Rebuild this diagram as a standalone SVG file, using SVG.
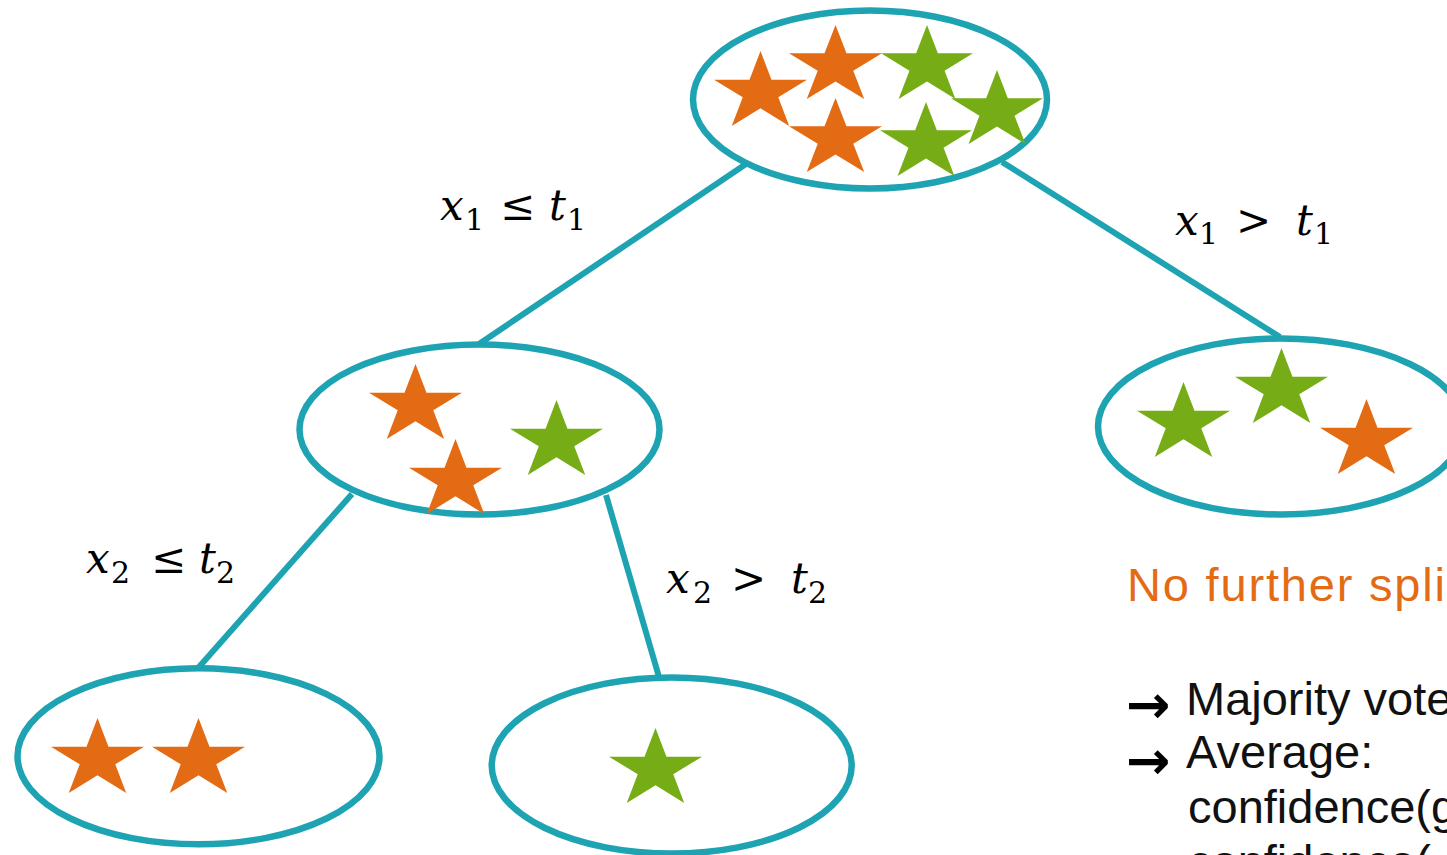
<svg xmlns="http://www.w3.org/2000/svg" xmlns:xlink="http://www.w3.org/1999/xlink" width="1447" height="855" viewBox="0 0 1447 855">
<style>
.node{fill:none;stroke:#1da3b2;stroke-width:6.5}
.edge{stroke:#1da3b2;stroke-width:6;fill:none}
.o{fill:#e36b14}
.g{fill:#76ad16}
.m{font-family:"DejaVu Serif","Liberation Serif",serif;font-size:42px;fill:#000}
.i{font-style:italic}
.s{font-size:30px;font-style:normal}
.t{font-family:"Liberation Sans",Arial,sans-serif;font-size:47px;fill:#111}
.h{fill:#e36b14}
.a{font-family:"DejaVu Sans",sans-serif;font-weight:bold;font-size:53px;fill:#000}
</style>
<defs>
<symbol id="star" viewBox="0 0 1 1" preserveAspectRatio="none">
<polygon points="0.5,0 0.618,0.382 1,0.382 0.691,0.618 0.809,1 0.5,0.764 0.191,1 0.309,0.618 0,0.382 0.382,0.382"/>
</symbol>
</defs>
<rect width="1447" height="855" fill="#fff"/>
<g id="connectors">
<line class="edge" x1="746" y1="164" x2="479" y2="344"/>
<line class="edge" x1="1002" y1="162" x2="1280" y2="337"/>
<line class="edge" x1="352" y1="494" x2="199" y2="667"/>
<line class="edge" x1="606" y1="495" x2="659" y2="677"/>
</g>
<g id="root">
<ellipse class="node" cx="870" cy="99.5" rx="177" ry="89"/>
<use xlink:href="#star" class="o" x="714" y="51" width="93" height="75"/>
<use xlink:href="#star" class="o" x="789" y="25" width="93" height="74"/>
<use xlink:href="#star" class="g" x="881" y="25" width="92" height="74"/>
<use xlink:href="#star" class="g" x="951" y="70" width="92" height="74"/>
<use xlink:href="#star" class="o" x="789" y="98" width="93" height="74"/>
<use xlink:href="#star" class="g" x="880" y="102" width="92" height="74"/>
</g>
<g id="left">
<ellipse class="node" cx="479.5" cy="429.5" rx="180" ry="85"/>
<use xlink:href="#star" class="o" x="369" y="364" width="93" height="75"/>
<use xlink:href="#star" class="o" x="409" y="439" width="93" height="75"/>
<use xlink:href="#star" class="g" x="510" y="400" width="93" height="75"/>
</g>
<g id="right">
<ellipse class="node" cx="1281" cy="426.5" rx="183" ry="88"/>
<use xlink:href="#star" class="g" x="1137" y="382" width="93" height="75"/>
<use xlink:href="#star" class="g" x="1235" y="348" width="93" height="75"/>
<use xlink:href="#star" class="o" x="1320" y="399" width="93" height="75"/>
</g>
<g id="leaf-left">
<ellipse class="node" cx="198.5" cy="756.3" rx="181" ry="88"/>
<use xlink:href="#star" class="o" x="51" y="718" width="93" height="75"/>
<use xlink:href="#star" class="o" x="152" y="718" width="93" height="75"/>
</g>
<g id="leaf-mid">
<ellipse class="node" cx="671.7" cy="765.5" rx="180" ry="88"/>
<use xlink:href="#star" class="g" x="609" y="728" width="93" height="75"/>
</g>
<g id="labels">
<text class="m" y="220"><tspan class="i" x="440">x</tspan><tspan class="s" x="465" y="230">1</tspan><tspan x="500" y="220">≤</tspan><tspan class="i" x="549">t</tspan><tspan class="s" x="567" y="230">1</tspan></text>
<text class="m" y="235"><tspan class="i" x="1175">x</tspan><tspan class="s" x="1199" y="244">1</tspan><tspan x="1236" y="235">&gt;</tspan><tspan class="i" x="1296">t</tspan><tspan class="s" x="1314" y="244">1</tspan></text>
<text class="m" y="573"><tspan class="i" x="86">x</tspan><tspan class="s" x="111" y="583">2</tspan><tspan x="151" y="573">≤</tspan><tspan class="i" x="199">t</tspan><tspan class="s" x="216" y="583">2</tspan></text>
<text class="m" y="593"><tspan class="i" x="666">x</tspan><tspan class="s" x="693" y="603">2</tspan><tspan x="731" y="593">&gt;</tspan><tspan class="i" x="791">t</tspan><tspan class="s" x="808" y="603">2</tspan></text>
</g>
<g id="note">
<text class="t h" x="1127" y="601" textLength="318" lengthAdjust="spacing">No further spli</text>
<text class="a" x="1126" y="723">→</text>
<text class="t" x="1186" y="715">Majority vote</text>
<text class="a" x="1126" y="779">→</text>
<text class="t" x="1186" y="768">Average:</text>
<text class="t" x="1188" y="823">confidence(g</text>
<text class="t" x="1188" y="878">confidence(</text>
</g>
</svg>
